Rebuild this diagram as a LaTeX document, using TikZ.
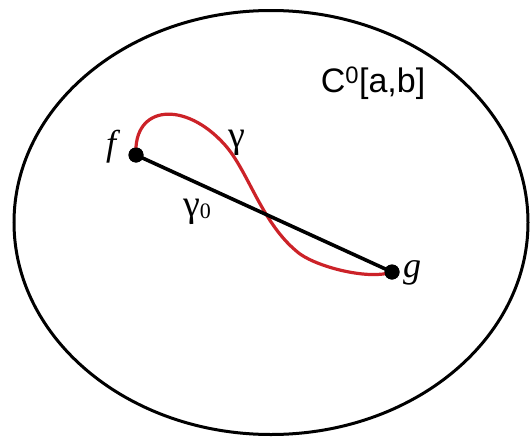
\documentclass[tikz,border=0pt]{standalone}
\usepackage{fontspec}
\setmainfont{Liberation Serif}
\newfontfamily\arialfont{Liberation Sans}
\definecolor{curvered}{RGB}{204,34,40}
\begin{document}
\begin{tikzpicture}[x=1pt,y=-1pt,
  dot/.style={circle,fill=black,inner sep=0pt,minimum size=15pt},
  lbl/.style={inner sep=0pt,font=\fontsize{38}{42}\selectfont}]
\useasboundingbox (0,0) rectangle (530,439);
\draw[line width=3pt] (271,222.5) ellipse [x radius=257, y radius=212];
\node[dot] (f) at (136,155) {};
\node[dot] (g) at (392,272) {};
\draw[curvered,line width=3.2pt] (f.center) .. controls (133,105) and (185,100) .. (225,145)
  .. controls (249,172) and (262,225) .. (300,254)
  .. controls (320,268) and (370,280) .. (g.center);
\draw[line width=3.6pt] (f.center) -- (g.center);
\node[dot] at (f) {};
\node[dot] at (g) {};
\node[lbl,font=\fontsize{36}{40}\selectfont\itshape] (fl) at (111,147) {f};
\node[lbl,font=\fontsize{36}{40}\selectfont\itshape] (gl) at (412,273) {g};
\node[lbl] (gam) at (237,143) {γ};
\node[lbl] (gam0) at (197,212) {γ\raisebox{-0.05em}{\fontsize{22}{24}\selectfont 0}};
\node[lbl,font=\fontsize{34}{38}\selectfont\arialfont] (space) at (373,83) {C\textsuperscript{0}[a,b]};
\end{tikzpicture}
\end{document}
